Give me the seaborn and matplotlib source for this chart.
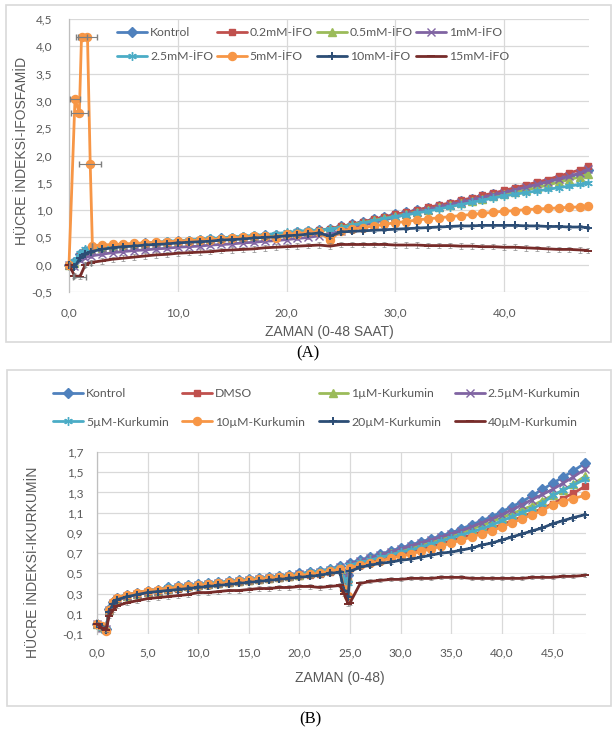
import matplotlib
matplotlib.use("Agg")
import matplotlib.pyplot as plt
from matplotlib.patches import Rectangle
import seaborn as sns

# ---------------- Panel A (Ifosfamid) data ----------------
tA = [0, 0.5, 1.0, 1.5, 2.0,
      3, 4, 5, 6, 7, 8, 9, 10, 11, 12,
      13, 14, 15, 16, 17, 18, 19, 20, 21, 22,
      23, 24, 25, 26, 27, 28, 29, 30, 31, 32,
      33, 34, 35, 36, 37, 38, 39, 40, 41, 42,
      43, 44, 45, 46, 47, 47.7]
tA_5mM = [0, 0.55, 0.95, 1.15, 1.7, 1.95, 2.15,
          3, 4, 5, 6, 7, 8, 9, 10, 11, 12,
          13, 14, 15, 16, 17, 18, 19, 20, 21, 22,
          23, 24, 25, 26, 27, 28, 29, 30, 31, 32,
          33, 34, 35, 36, 37, 38, 39, 40, 41, 42,
          43, 44, 45, 46, 47, 47.7]

a_kontrol = [0.00, 0.05, 0.20, 0.26, 0.29,
             0.32, 0.34, 0.36, 0.37, 0.39, 0.40, 0.42, 0.43, 0.44, 0.45,
             0.47, 0.48, 0.49, 0.51, 0.52, 0.54, 0.55, 0.57, 0.59, 0.61,
             0.63, 0.66, 0.70, 0.74, 0.79, 0.83, 0.88, 0.92, 0.96, 1.00,
             1.04, 1.08, 1.12, 1.16, 1.21, 1.25, 1.29, 1.34, 1.38, 1.43,
             1.47, 1.52, 1.57, 1.62, 1.67, 1.73]
a_02 = [0.00, 0.04, 0.18, 0.25, 0.28,
        0.31, 0.33, 0.35, 0.36, 0.38, 0.39, 0.41, 0.42, 0.43, 0.45,
        0.46, 0.47, 0.49, 0.50, 0.52, 0.53, 0.55, 0.57, 0.59, 0.61,
        0.63, 0.66, 0.70, 0.74, 0.78, 0.83, 0.87, 0.92, 0.96, 1.00,
        1.05, 1.09, 1.13, 1.18, 1.22, 1.27, 1.31, 1.36, 1.41, 1.46,
        1.51, 1.56, 1.62, 1.68, 1.74, 1.80]
a_05 = [0.00, 0.03, 0.17, 0.24, 0.27,
        0.30, 0.32, 0.34, 0.35, 0.37, 0.38, 0.40, 0.41, 0.42, 0.44,
        0.45, 0.46, 0.48, 0.49, 0.51, 0.52, 0.54, 0.56, 0.58, 0.60,
        0.62, 0.65, 0.69, 0.73, 0.77, 0.81, 0.85, 0.89, 0.93, 0.97,
        1.01, 1.05, 1.09, 1.13, 1.17, 1.21, 1.25, 1.29, 1.33, 1.37,
        1.41, 1.46, 1.51, 1.56, 1.61, 1.66]
a_1 = [0.00, -0.02, 0.08, 0.13, 0.16,
       0.19, 0.22, 0.24, 0.26, 0.27, 0.29, 0.30, 0.32, 0.33, 0.34,
       0.36, 0.37, 0.38, 0.40, 0.41, 0.43, 0.44, 0.46, 0.48, 0.50,
       0.53, 0.57, 0.62, 0.67, 0.72, 0.77, 0.82, 0.87, 0.92, 0.96,
       1.01, 1.05, 1.10, 1.14, 1.19, 1.23, 1.28, 1.32, 1.37, 1.42,
       1.47, 1.52, 1.57, 1.62, 1.68, 1.75]
a_25 = [0.00, 0.06, 0.22, 0.28, 0.31,
        0.33, 0.35, 0.37, 0.38, 0.40, 0.41, 0.43, 0.44, 0.45, 0.47,
        0.48, 0.49, 0.51, 0.52, 0.54, 0.55, 0.57, 0.59, 0.61, 0.63,
        0.63, 0.65, 0.68, 0.72, 0.76, 0.80, 0.84, 0.88, 0.91, 0.95,
        0.98, 1.02, 1.06, 1.10, 1.14, 1.18, 1.22, 1.26, 1.29, 1.32,
        1.35, 1.38, 1.41, 1.44, 1.47, 1.50]
a_5 = [0.00, 3.03, 2.78, 4.17, 4.17, 1.85, 0.35,
       0.36, 0.37, 0.38, 0.39, 0.40, 0.41, 0.42, 0.43, 0.44, 0.45,
       0.46, 0.47, 0.49, 0.50, 0.52, 0.53, 0.49, 0.56, 0.57, 0.59,
       0.60, 0.45, 0.62, 0.65, 0.68, 0.71, 0.74, 0.77, 0.79, 0.82,
       0.84, 0.86, 0.88, 0.90, 0.92, 0.94, 0.96, 0.98, 0.99, 1.01,
       1.02, 1.03, 1.04, 1.05, 1.06, 1.07]
a_5_xerr = [0, 0.5, 0.8, 0.5, 0.9, 1.0, 0]
a_10 = [0.00, -0.05, 0.12, 0.20, 0.24,
        0.28, 0.31, 0.33, 0.34, 0.36, 0.37, 0.38, 0.40, 0.41, 0.42,
        0.43, 0.45, 0.46, 0.47, 0.49, 0.50, 0.51, 0.53, 0.54, 0.56,
        0.58, 0.52, 0.60, 0.61, 0.62, 0.63, 0.64, 0.65, 0.66, 0.67,
        0.68, 0.69, 0.70, 0.71, 0.71, 0.72, 0.72, 0.72, 0.72, 0.71,
        0.71, 0.70, 0.70, 0.69, 0.69, 0.68]
a_15 = [0.00, -0.20, -0.22, 0.00, 0.04,
        0.07, 0.10, 0.12, 0.14, 0.16, 0.18, 0.19, 0.21, 0.22, 0.23,
        0.24, 0.26, 0.27, 0.28, 0.29, 0.31, 0.32, 0.33, 0.34, 0.35,
        0.36, 0.34, 0.37, 0.37, 0.37, 0.37, 0.37, 0.36, 0.36, 0.36,
        0.35, 0.35, 0.35, 0.34, 0.34, 0.33, 0.33, 0.32, 0.32, 0.31,
        0.30, 0.29, 0.28, 0.28, 0.27, 0.26]
a_15_xerr = [0, 0, 0.6, 0, 0]

labelsA = ["Kontrol", "0.2mM-İFO", "0.5mM-İFO", "1mM-İFO",
           "2.5mM-İFO", "5mM-İFO", "10mM-İFO", "15mM-İFO"]
yerrA = [0.03, 0.03, 0.03, 0.03, 0.03, 0.04, 0.03, 0.05]

# ---------------- Panel B (Kurkumin) data ----------------
tB = [0, 0.5, 0.9, 1.2, 1.6, 2.0,
      3, 4, 5, 6, 7, 8, 9, 10, 11, 12,
      13, 14, 15, 16, 17, 18, 19, 20, 21, 22, 23, 24,
      24.4, 24.8,
      25, 26, 27, 28, 29, 30, 31, 32, 33, 34,
      35, 36, 37, 38, 39, 40, 41, 42, 43, 44,
      45, 46, 47, 48.2]

b_kontrol = [0.00, -0.04, -0.05, 0.15, 0.22, 0.26,
             0.29, 0.31, 0.33, 0.34, 0.36, 0.37, 0.38, 0.39, 0.40, 0.41,
             0.42, 0.43, 0.44, 0.45, 0.46, 0.47, 0.48, 0.50, 0.51, 0.52, 0.54, 0.57,
             0.50, 0.48,
             0.60, 0.63, 0.66, 0.69, 0.72, 0.75, 0.78, 0.81, 0.84, 0.87,
             0.90, 0.94, 0.98, 1.02, 1.06, 1.11, 1.16, 1.21, 1.27, 1.33,
             1.39, 1.45, 1.51, 1.59]
b_dmso = [0.00, -0.03, -0.05, 0.12, 0.20, 0.24,
          0.27, 0.29, 0.31, 0.32, 0.34, 0.35, 0.36, 0.37, 0.38, 0.39,
          0.40, 0.41, 0.42, 0.43, 0.44, 0.45, 0.46, 0.47, 0.48, 0.49, 0.51, 0.53,
          0.45, 0.42,
          0.55, 0.58, 0.61, 0.63, 0.66, 0.69, 0.71, 0.74, 0.77, 0.79,
          0.82, 0.85, 0.88, 0.91, 0.95, 0.98, 1.02, 1.06, 1.10, 1.14,
          1.19, 1.24, 1.29, 1.36]
b_1 = [0.00, -0.03, -0.05, 0.14, 0.21, 0.25,
       0.28, 0.30, 0.32, 0.33, 0.35, 0.36, 0.37, 0.38, 0.39, 0.40,
       0.41, 0.42, 0.43, 0.44, 0.45, 0.46, 0.47, 0.48, 0.50, 0.51, 0.53, 0.55,
       0.47, 0.45,
       0.58, 0.61, 0.64, 0.67, 0.70, 0.72, 0.75, 0.78, 0.81, 0.84,
       0.87, 0.90, 0.94, 0.97, 1.01, 1.05, 1.09, 1.13, 1.17, 1.22,
       1.27, 1.32, 1.38, 1.46]
b_25 = [0.00, -0.04, -0.05, 0.14, 0.21, 0.25,
        0.28, 0.30, 0.32, 0.33, 0.35, 0.36, 0.37, 0.38, 0.39, 0.40,
        0.41, 0.42, 0.43, 0.44, 0.45, 0.46, 0.47, 0.49, 0.50, 0.51, 0.53, 0.56,
        0.47, 0.45,
        0.59, 0.62, 0.65, 0.68, 0.71, 0.74, 0.77, 0.80, 0.83, 0.86,
        0.89, 0.92, 0.96, 1.00, 1.04, 1.08, 1.13, 1.18, 1.23, 1.28,
        1.33, 1.39, 1.45, 1.53]
b_5 = [0.00, -0.04, -0.05, 0.15, 0.22, 0.26,
       0.29, 0.31, 0.33, 0.34, 0.36, 0.37, 0.38, 0.39, 0.40, 0.41,
       0.42, 0.43, 0.44, 0.45, 0.46, 0.47, 0.48, 0.49, 0.51, 0.52, 0.54, 0.56,
       0.44, 0.40,
       0.58, 0.61, 0.63, 0.66, 0.68, 0.71, 0.73, 0.76, 0.79, 0.82,
       0.85, 0.88, 0.91, 0.94, 0.98, 1.02, 1.06, 1.10, 1.14, 1.19,
       1.27, 1.32, 1.37, 1.43]
b_10 = [0.00, -0.02, -0.07, 0.14, 0.22, 0.26,
        0.29, 0.31, 0.33, 0.34, 0.35, 0.36, 0.37, 0.38, 0.39, 0.40,
        0.41, 0.42, 0.43, 0.44, 0.45, 0.46, 0.47, 0.48, 0.49, 0.50, 0.52, 0.54,
        0.35, 0.28,
        0.55, 0.58, 0.60, 0.62, 0.65, 0.67, 0.69, 0.72, 0.74, 0.77,
        0.80, 0.83, 0.86, 0.89, 0.92, 0.96, 1.00, 1.04, 1.08, 1.12,
        1.18, 1.21, 1.24, 1.27]
b_20 = [0.00, -0.03, -0.06, 0.12, 0.20, 0.24,
        0.27, 0.29, 0.31, 0.32, 0.33, 0.34, 0.35, 0.36, 0.37, 0.38,
        0.39, 0.40, 0.41, 0.42, 0.43, 0.44, 0.45, 0.46, 0.47, 0.48, 0.50, 0.51,
        0.33, 0.27,
        0.52, 0.56, 0.58, 0.60, 0.61, 0.63, 0.64, 0.66, 0.68, 0.70,
        0.71, 0.73, 0.75, 0.78, 0.80, 0.83, 0.86, 0.89, 0.92, 0.95,
        0.99, 1.02, 1.05, 1.08]
b_40 = [0.00, -0.04, -0.06, 0.08, 0.14, 0.18,
        0.21, 0.23, 0.25, 0.26, 0.27, 0.28, 0.29, 0.31, 0.31, 0.32,
        0.33, 0.33, 0.34, 0.35, 0.35, 0.36, 0.36, 0.37, 0.37, 0.36, 0.37, 0.38,
        0.30, 0.20,
        0.21, 0.40, 0.42, 0.43, 0.44, 0.44, 0.45, 0.45, 0.45, 0.46,
        0.46, 0.46, 0.45, 0.45, 0.45, 0.45, 0.45, 0.45, 0.46, 0.46,
        0.46, 0.47, 0.47, 0.48]

labelsB = ["Kontrol", "DMSO", "1µM-Kurkumin", "2.5µM-Kurkumin",
           "5µM-Kurkumin", "10µM-Kurkumin", "20µM-Kurkumin", "40µM-Kurkumin"]
yerrB = [0.02, 0.02, 0.02, 0.02, 0.02, 0.025, 0.02, 0.02]

yticksA = [-0.5, 0.0, 0.5, 1.0, 1.5, 2.0, 2.5, 3.0, 3.5, 4.0, 4.5]
xticksA = [0, 10, 20, 30, 40]
yticksB = [-0.1, 0.1, 0.3, 0.5, 0.7, 0.9, 1.1, 1.3, 1.5, 1.7]
xticksB = [0, 5, 10, 15, 20, 25, 30, 35, 40, 45]

# ---------------- styling ----------------
colors = ["#4F81BD", "#C0504D", "#9BBB59", "#8064A2",
          "#4BACC6", "#F79646", "#2C4D75", "#772C2A"]
markers = ["D", "s", "^", "x", (6, 2, 0), "o", "+", "_"]
msizes = [4.8, 4.8, 5.2, 5.2, 6.2, 5.8, 6.2, 6.2]
GRID = "#D9D9D9"
TXT = "#595959"

sns.set_theme(style="white")
plt.rcParams["font.family"] = ["Lato", "DejaVu Sans"]

W, H = 613, 736
fig = plt.figure(figsize=(W / 100, H / 100), dpi=100)
fig.patch.set_facecolor("white")


def fx(px):
    return px / W


def fy(py):
    return 1 - py / H


axA = fig.add_axes([fx(69), fy(292), (589 - 69) / W, (292 - 19) / H])
axB = fig.add_axes([fx(97), fy(634), (586 - 97) / W, (634 - 452) / H])


def fmt(v):
    return f"{v:.1f}".replace(".", ",")


def style_axes(ax, xt, yt, xlim, ylim, xpad, ypad):
    ax.set_xlim(*xlim)
    ax.set_ylim(*ylim)
    ax.set_xticks(xt)
    ax.set_xticklabels([fmt(v) for v in xt])
    ax.set_yticks(yt)
    ax.set_yticklabels([fmt(v) for v in yt])
    ax.grid(True, color=GRID, linewidth=0.9)
    ax.set_axisbelow(True)
    for s in ["top", "right", "bottom"]:
        ax.spines[s].set_visible(False)
    ax.spines["left"].set_color("#BFBFBF")
    ax.spines["left"].set_linewidth(0.9)
    ax.tick_params(axis="both", length=0, labelsize=8.6, labelcolor=TXT)
    ax.tick_params(axis="x", pad=xpad)
    ax.tick_params(axis="y", pad=ypad)
    ax.set_xlabel("")
    ax.set_ylabel("")


def draw_series(ax, t, v, i, label, yerr):
    c = colors[i]
    ecol = "#808080" if i == 7 else c
    ax.errorbar(t, v, yerr=yerr, fmt="none", ecolor=ecol, elinewidth=0.6,
                capsize=1.3, capthick=0.6, alpha=0.75, zorder=2 + i * 0.1)
    sns.lineplot(x=t, y=v, ax=ax, color=c, linewidth=2.0, marker=markers[i],
                 markersize=msizes[i], markeredgecolor=c, markerfacecolor=c,
                 markeredgewidth=1.4 if i >= 6 else 1.0, label=label,
                 estimator=None, errorbar=None, sort=False,
                 zorder=2.05 + i * 0.1, clip_on=False)


# Panel A
seriesA = [(tA, a_kontrol), (tA, a_02), (tA, a_05), (tA, a_1),
           (tA, a_25), (tA_5mM, a_5), (tA, a_10), (tA, a_15)]
for i, (t, v) in enumerate(seriesA):
    draw_series(axA, t, v, i, labelsA[i], yerrA[i])
axA.errorbar(tA_5mM[:7], a_5[:7], xerr=a_5_xerr, fmt="none", ecolor="#7F7F7F",
             elinewidth=0.8, capsize=2.5, zorder=3.5)
axA.errorbar(tA[:5], a_15[:5], xerr=a_15_xerr, fmt="none", ecolor="#7F7F7F",
             elinewidth=0.8, capsize=2.5, zorder=3.5)
style_axes(axA, xticksA, yticksA, (0, 47.8), (-0.5, 4.5), 11, 12)

# Panel B
seriesB = [b_kontrol, b_dmso, b_1, b_25, b_5, b_10, b_20, b_40]
for i, v in enumerate(seriesB):
    draw_series(axB, tB, v, i, labelsB[i], yerrB[i])
style_axes(axB, xticksB, yticksB, (0, 48.3), (-0.1, 1.7), 10, 10)

order = [0, 4, 1, 5, 2, 6, 3, 7]


def make_legend(ax, x0, ytop, colsp, lsp):
    h, l = ax.get_legend_handles_labels()
    h = [h[k] for k in order]
    l = [l[k] for k in order]
    leg = ax.legend(h, l, ncol=4, loc="upper left",
                    bbox_to_anchor=(fx(x0), fy(ytop)),
                    bbox_transform=fig.transFigure, frameon=False,
                    fontsize=8.8, handlelength=2.45, handletextpad=0.25,
                    columnspacing=colsp, labelspacing=lsp, borderpad=0,
                    borderaxespad=0, numpoints=1)
    for txt in leg.get_texts():
        txt.set_color(TXT)
    return leg


make_legend(axA, 117, 27, 0.3, 1.1)
make_legend(axB, 53, 388, 1.1, 1.45)

# Axis titles
lab = dict(color=TXT, fontsize=10, family=["Liberation Sans", "DejaVu Sans"])
fig.text(fx(22), fy(151), "HÜCRE İNDEKSİ-IFOSFAMİD", rotation=90,
         ha="center", va="center", **lab)
fig.text(fx(329), fy(332), "ZAMAN (0-48 SAAT)", ha="center", va="center", **lab)
fig.text(fx(33), fy(562), "HÜCRE İNDEKSİ-IKURKUMİN", rotation=90,
         ha="center", va="center", **lab)
fig.text(fx(340), fy(678), "ZAMAN (0-48)", ha="center", va="center", **lab)

cap = dict(color="black", fontsize=12, family=["Liberation Serif", "DejaVu Serif"])
fig.text(fx(308), fy(353), "(A)", ha="center", va="center", **cap)
fig.text(fx(310), fy(719), "(B)", ha="center", va="center", **cap)

# Chart-area borders
fig.patches.append(Rectangle((fx(6), fy(342)), 605 / W, 337 / H,
                             transform=fig.transFigure, fill=False,
                             edgecolor=GRID, linewidth=1.2))
fig.patches.append(Rectangle((fx(7), fy(706)), 604 / W, 336 / H,
                             transform=fig.transFigure, fill=False,
                             edgecolor=GRID, linewidth=1.2))

fig.savefig("out.png", dpi=100, facecolor="white")
